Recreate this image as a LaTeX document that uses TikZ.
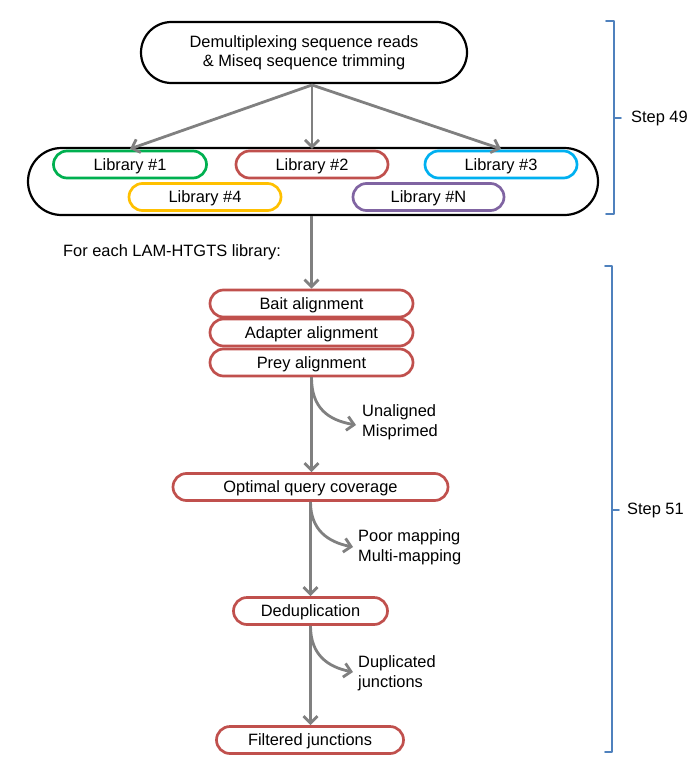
\documentclass[tikz,border=0pt]{standalone}
\usepackage{fontspec}
\setmainfont{Liberation Sans}
\usetikzlibrary{shapes.misc,arrows.meta}
\definecolor{cred}{HTML}{C0504D}
\definecolor{cgreen}{HTML}{00B050}
\definecolor{ccyan}{HTML}{00B0F0}
\definecolor{cyellow}{HTML}{FFC000}
\definecolor{cpurple}{HTML}{8064A2}
\definecolor{cblue}{HTML}{4F81BD}
\definecolor{cgray}{HTML}{808080}
\tikzset{
  pill/.style={rounded rectangle, draw, line width=2.7pt, inner sep=0pt, minimum height=27pt, text height=12pt, text depth=1pt, font=\fontsize{16.4}{20}\selectfont},
  bigpill/.style={rounded rectangle, draw=black, line width=2.2pt, inner sep=0pt},
  flow/.style={draw=cgray, line width=2.8pt, -{Straight Barb[length=7pt,width=14pt,line width=2.8pt]}},
  lbl/.style={inner sep=0pt, align=left, font=\fontsize{16.4}{20}\selectfont},
  brace/.style={draw=cblue, line width=1.8pt, line cap=round, line join=round}
}
\begin{document}
\begin{tikzpicture}[x=1pt,y=-1pt]
\useasboundingbox (0,0) rectangle (699,776);
% top node
\node[bigpill, minimum width=326pt, minimum height=61pt, align=center, font=\fontsize{16.4}{19}\selectfont] (top) at (304,52.5) {Demultiplexing sequence reads\\\& Miseq sequence trimming};
% container
\node[bigpill, minimum width=570pt, minimum height=67pt] (outer) at (313,181.5) {};
\node[pill, draw=cgreen, minimum width=153pt] (lib1) at (130,164.5) {Library \#1};
\node[pill, draw=cred, minimum width=152pt] (lib2) at (312,164.5) {Library \#2};
\node[pill, draw=ccyan, minimum width=152pt] (lib3) at (501,164.5) {Library \#3};
\node[pill, draw=cyellow, minimum width=152pt] (lib4) at (205,197) {Library \#4};
\node[pill, draw=cpurple, minimum width=151pt] (libN) at (428.5,197) {Library \#N};
% arrows from top
\coordinate (src) at (312,85);
\draw[flow] (src) -- ([yshift=-2pt]outer.north -| lib1.north);
\draw[flow] (src) -- ([yshift=-2pt]outer.north -| lib2.north);
\draw[flow] (src) -- ([yshift=-2pt]outer.north -| lib3.north);
% label
\node[lbl, anchor=west] (each) at (63,252.5) {For each LAM-HTGTS library:};
% alignment stack
\node[pill, draw=cred, minimum width=203pt] (bait) at (311.5,303.5) {Bait alignment};
\node[pill, draw=cred, minimum width=203pt] (adapt) at (311.5,332.5) {Adapter alignment};
\node[pill, draw=cred, minimum width=203pt] (prey) at (311.5,362.5) {Prey alignment};
\node[pill, draw=cred, minimum width=275pt] (opt) at (310.5,487) {Optimal query coverage};
\node[pill, draw=cred, minimum width=154pt] (dedup) at (310.5,611) {Deduplication};
\node[pill, draw=cred, minimum width=187pt] (filt) at (310,740) {Filtered junctions};
% main flow
\draw[flow] (outer.south -| bait.north) -- (bait.north);
\draw[flow] (prey.south) -- (opt.north -| prey.south);
\draw[flow] (opt.south) -- (dedup.north);
\draw[flow] (dedup.south) -- (filt.north -| dedup.south);
% branches
\coordinate (e1) at (356,425);
\coordinate (e2) at (353,547);
\coordinate (e3) at (353,672);
\draw[flow] (prey.south) .. controls (311.5,408) and (328,420) .. (e1);
\draw[flow] (opt.south) .. controls (310.5,530) and (328,542) .. (e2);
\draw[flow] (dedup.south) .. controls (310.5,655) and (328,667) .. (e3);
\node[lbl, anchor=west] (r1) at (362,422.5) {Unaligned\\Misprimed};
\node[lbl, anchor=west] (r2) at (358,547) {Poor mapping\\Multi-mapping};
\node[lbl, anchor=west] (r3) at (358,673) {Duplicated\\junctions};
% brackets
\coordinate (b1t) at (606,21);
\coordinate (b1b) at (606,214);
\draw[brace] (b1t) -- (614,21) -- (614,214) -- (b1b);
\draw[brace] (614,118) -- (621,118);
\node[lbl, anchor=west] (s49) at (631,118) {Step 49};
\coordinate (b2t) at (605,266);
\coordinate (b2b) at (605,752);
\draw[brace] (b2t) -- (612,266) -- (612,752) -- (b2b);
\draw[brace] (612,510) -- (619,510);
\node[lbl, anchor=west] (s51) at (627,510) {Step 51};
\end{tikzpicture}
\end{document}
